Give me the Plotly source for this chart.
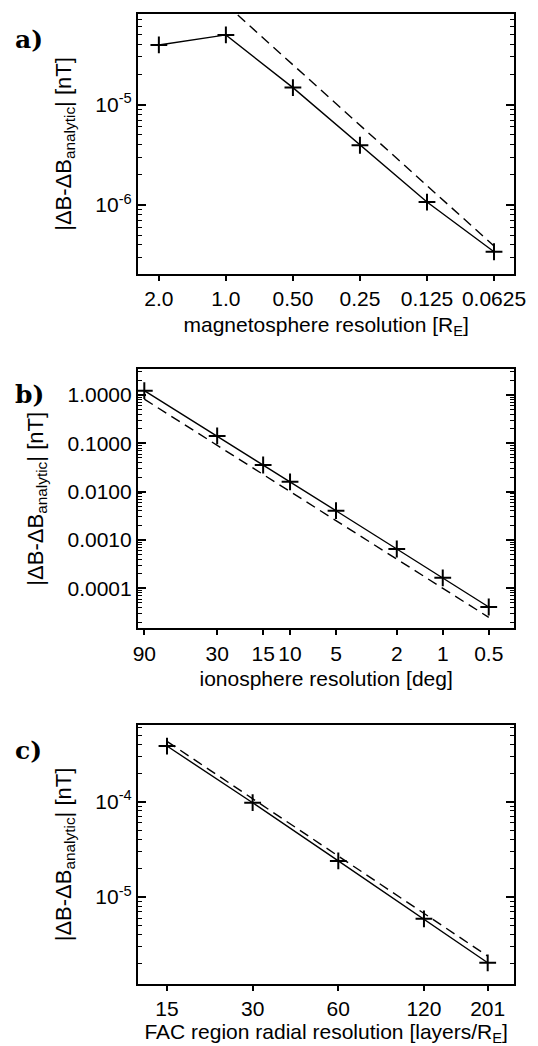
import plotly.graph_objs as go

# panel a: magnetosphere resolution [R_E] vs error [nT]
mag_res = [2.0, 1.0, 0.5, 0.25, 0.125, 0.0625]
mag_err = [3.94e-5, 4.96e-5, 1.48e-5, 3.94e-6, 1.07e-6, 3.42e-7]
mag_ref_res = [1.0, 0.0625]
mag_ref_err = [1.0e-4, 3.9e-7]
mag_ticktext = ['2.0', '1.0', '0.50', '0.25', '0.125', '0.0625']

# panel b: ionosphere resolution [deg]
iono_res = [90, 30, 15, 10, 5, 2, 1, 0.5]
iono_err = [1.23, 0.142, 0.0356, 0.016, 0.00403, 6.5e-4, 1.65e-4, 4.1e-5]
iono_ref_res = [90, 0.5]
iono_ref_err = [0.82, 2.5e-5]
iono_ticktext = ['90', '30', '15', '10', '5', '2', '1', '0.5']

# panel c: FAC region radial resolution [layers/R_E]
fac_layers = [15, 30, 60, 120, 201]
fac_err = [3.84e-4, 9.76e-5, 2.39e-5, 5.9e-6, 2.04e-6]
fac_ref_layers = [15, 201]
fac_ref_err = [4.3e-4, 2.4e-6]
fac_ticktext = ['15', '30', '60', '120', '201']

W, H = 538, 1046
FONT = 'Liberation Sans'
YTITLE = '|\u0394B-\u0394B<sub>analytic</sub>| [nT]'


def px_x(p):
    return p / W


def px_y(p):
    return 1 - p / H


def minor_vals(e0, e1):
    return [k * 10.0 ** e for e in range(e0, e1) for k in range(2, 10)]


panels = [
    dict(x=mag_res, y=mag_err, rx=mag_ref_res, ry=mag_ref_err,
         xtv=mag_res, xtt=mag_ticktext, xrange=[0.395, -1.2956],
         yrange=[-6.688, -4.096], ytv=[1e-6, 1e-5],
         ytt=['10<sup>-6</sup>', '10<sup>-5</sup>'], minor=minor_vals(-7, -4),
         top=14, bot=274, label='a)',
         xtitle='magnetosphere resolution [R<sub>E</sub>]'),
    dict(x=iono_res, y=iono_err, rx=iono_ref_res, ry=iono_ref_err,
         xtv=iono_res, xtt=iono_ticktext, xrange=[1.996, -0.469],
         yrange=[-4.828, 0.532], ytv=[1e-4, 1e-3, 1e-2, 1e-1, 1],
         ytt=['0.0001', '0.0010', '0.0100', '0.1000', '1.0000'],
         minor=minor_vals(-5, 1), top=369.3, bot=628.3, label='b)',
         xtitle='ionosphere resolution [deg]'),
    dict(x=fac_layers, y=fac_err, rx=fac_ref_layers, ry=fac_ref_err,
         xtv=fac_layers, xtt=fac_ticktext, xrange=[1.074, 2.397],
         yrange=[-5.913, -3.195], ytv=[1e-5, 1e-4],
         ytt=['10<sup>-5</sup>', '10<sup>-4</sup>'], minor=minor_vals(-6, -3),
         top=725, bot=984, label='c)',
         xtitle='FAC region radial resolution [layers/R<sub>E</sub>]'),
]

fig = go.Figure()
layout = dict(
    width=W, height=H,
    margin=dict(l=0, r=0, t=0, b=0),
    paper_bgcolor='white', plot_bgcolor='white',
    showlegend=False,
    font=dict(family=FONT, size=21, color='black'),
    annotations=[],
)

for i, p in enumerate(panels):
    n = '' if i == 0 else str(i + 1)
    xa, ya = 'x' + n, 'y' + n

    fig.add_trace(go.Scatter(
        x=p['rx'], y=p['ry'], xaxis=xa, yaxis=ya, mode='lines',
        line=dict(color='black', width=1.4, dash='10px,6px'),
        hoverinfo='skip'))
    fig.add_trace(go.Scatter(
        x=p['x'], y=p['y'], xaxis=xa, yaxis=ya, mode='lines+markers',
        line=dict(color='black', width=1.4),
        marker=dict(symbol='cross-thin', size=12,
                    line=dict(color='black', width=2))))

    layout['xaxis' + n] = dict(
        type='log', range=p['xrange'], domain=[px_x(137), px_x(525)],
        anchor=ya, tickmode='array', tickvals=p['xtv'], ticktext=p['xtt'],
        ticks='outside', ticklen=5, tickwidth=1.5, tickcolor='black',
        showline=True, linewidth=2, linecolor='black', mirror=True,
        showgrid=False, zeroline=False,
        tickfont=dict(size=21),
        title=dict(text=p['xtitle'], font=dict(size=21), standoff=8),
    )
    layout['yaxis' + n] = dict(
        type='log', range=p['yrange'], domain=[px_y(p['bot']), px_y(p['top'])],
        anchor=xa, tickmode='array', tickvals=p['ytv'], ticktext=p['ytt'],
        ticks='inside', ticklen=8, tickwidth=1.5, tickcolor='black',
        showline=True, linewidth=2, linecolor='black', mirror='ticks',
        showgrid=False, zeroline=False,
        minor=dict(tickmode='array', tickvals=p['minor'], ticks='inside',
                   ticklen=4, tickwidth=1, tickcolor='black', showgrid=False),
        tickfont=dict(size=21),
        title=dict(text=YTITLE, font=dict(size=22), standoff=18),
    )
    layout['annotations'].append(dict(
        text='<b>' + p['label'] + '</b>', xref='paper', yref='paper',
        x=px_x(8), y=px_y(p['top'] + 25), xanchor='left', yanchor='middle',
        showarrow=False, font=dict(family='DejaVu Serif', size=25, color='black')))

fig.update_layout(**layout)
# the page body has a default 8px margin; drop it so the figure fills the window
fig.write_html('out.html', config={'displayModeBar': False},
               post_script="document.body.style.margin='0';")
